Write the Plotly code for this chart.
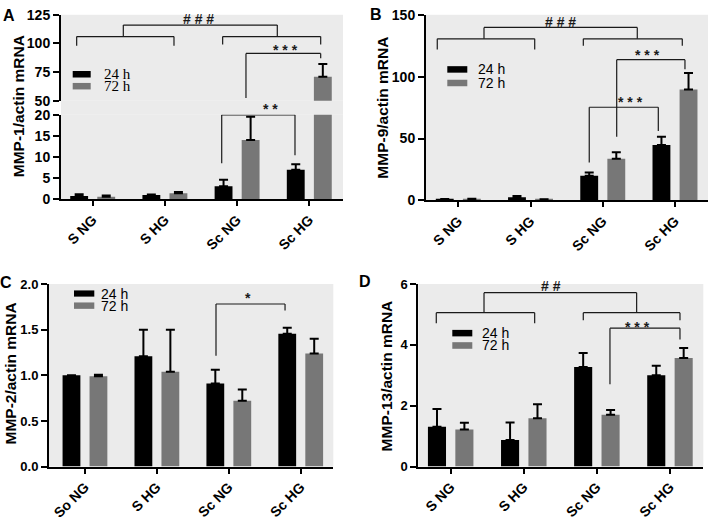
import plotly.graph_objects as go

# ---------------- data ----------------
cats_S = ["S NG", "S HG", "Sc NG", "Sc HG"]
cats_So = ["So NG", "S HG", "Sc NG", "Sc HG"]
series_names = ["24 h", "72 h"]

mmp1_24 = [0.75, 1.0, 3.1, 7.0]
mmp1_24_err = [0.45, 0.15, 1.5, 1.3]
mmp1_72 = [0.6, 1.45, 14.0, 71.0]
mmp1_72_err = [0.3, 0.25, 5.5, 11.0]

mmp9_24 = [0.8, 2.6, 20.0, 44.8]
mmp9_24_err = [0.4, 1.0, 2.5, 6.7]
mmp9_72 = [1.0, 0.7, 33.6, 89.6]
mmp9_72_err = [0.3, 0.3, 5.4, 13.4]

mmp2_24 = [1.0, 1.21, 0.91, 1.455]
mmp2_24_err = [0.0, 0.29, 0.15, 0.065]
mmp2_72 = [0.99, 1.04, 0.72, 1.24]
mmp2_72_err = [0.015, 0.46, 0.125, 0.16]

mmp13_24 = [1.31, 0.87, 3.27, 3.0]
mmp13_24_err = [0.58, 0.58, 0.46, 0.31]
mmp13_72 = [1.22, 1.59, 1.70, 3.57]
mmp13_72_err = [0.22, 0.46, 0.16, 0.33]

# significance brackets: (x0, x1, y_top, y_left_end, y_right_end)
brk_A_up = [(0.424, 2.557, 116, 106, 106), (-0.222, 1.126, 106, 98, 98),
            (1.80, 3.158, 106, 99, 99), (2.123, 3.158, 91.3, 52.5, 87)]
brk_A_low = [(1.787, 2.802, 19.95, 8.5, 10.4)]
brk_B = [(0.356, 2.478, 139.8, 130.6, 130.6), (-0.291, 1.058, 130.6, 122, 122),
         (1.731, 3.101, 130.6, 124.9, 124.9), (2.193, 3.138, 113.7, 51.5, 106),
         (1.813, 2.769, 75.3, 30.7, 56.2)]
brk_C = [(1.822, 2.782, 1.781, 1.214, 1.71)]
brk_D = [(0.456, 2.544, 5.714, 5.057, 5.057), (-0.197, 1.149, 5.057, 4.707, 4.707),
         (1.814, 3.137, 5.057, 4.812, 4.812), (2.179, 3.137, 4.548, 2.709, 4.175)]
# significance labels: (x, y, text, pixel shift)
sig_A_up = [(1.46, 121.4, "# # #", 0), (2.677, 94.5, "* * *", 0)]
sig_A_low = [(2.456, 19.9, "* *", 6)]
sig_B = [(1.418, 144.5, "# # #", 0), (2.617, 117.5, "* * *", 0), (2.386, 79.5, "* * *", 0)]
sig_C = [(2.271, 1.85, "*", 0)]
sig_D = [(1.368, 5.92, "# #", 0), (2.553, 4.6, "* * *", 0)]

# ---------------- style ----------------
W, H = 709, 525
BLACK = "#000000"
GREY = "#777777"
BG = "#ebebeb"
SANS = "Liberation Sans, Arial, sans-serif"
SERIF = "Liberation Serif, Times New Roman, serif"


def px(x):
    return x / W


def py(y):
    return 1 - y / H


fig = go.Figure()


def add_pair(xa, ya, cats, v24, e24, v72, e72):
    for name, vals, err, col in ((series_names[0], v24, e24, BLACK),
                                 (series_names[1], v72, e72, GREY)):
        fig.add_trace(go.Bar(
            x=cats, y=vals, name=name, xaxis=xa, yaxis=ya,
            marker=dict(color=col, line=dict(width=0)),
            error_y=dict(type="data", array=err, arrayminus=[0] * len(err),
                         symmetric=False, color=BLACK, thickness=2, width=4.5),
            showlegend=False))


add_pair("x", "y", cats_S, mmp1_24, mmp1_24_err, mmp1_72, mmp1_72_err)
add_pair("x", "y2", cats_S, mmp1_24, mmp1_24_err, mmp1_72, mmp1_72_err)
add_pair("x2", "y3", cats_S, mmp9_24, mmp9_24_err, mmp9_72, mmp9_72_err)
add_pair("x3", "y4", cats_So, mmp2_24, mmp2_24_err, mmp2_72, mmp2_72_err)
add_pair("x4", "y5", cats_S, mmp13_24, mmp13_24_err, mmp13_72, mmp13_72_err)

tickfont = dict(family=SANS, size=14, color=BLACK, weight="bold")
tickfont_s = dict(family=SANS, size=13, color=BLACK, weight="bold")
xtickfont = dict(family=SANS, size=14, color=BLACK, weight="bold")


def xax(dom, rng, anchor):
    return dict(domain=dom, range=rng, anchor=anchor, showline=True, linecolor=BLACK,
                linewidth=2, ticks="outside", ticklen=5, tickwidth=2, tickcolor=BLACK,
                tickangle=-45, tickfont=xtickfont, showgrid=False, zeroline=False,
                fixedrange=True)


def yax(dom, rng, anchor, tv, ttext=None, tf=tickfont):
    d = dict(domain=dom, range=rng, anchor=anchor, showline=True, linecolor=BLACK,
             linewidth=2, ticks="outside", ticklen=6, tickwidth=2, tickcolor=BLACK,
             tickvals=tv, tickfont=tf, showgrid=False, zeroline=False, fixedrange=True)
    if ttext is not None:
        d["ticktext"] = ttext
    return d


layout = dict(
    width=W, height=H, margin=dict(l=0, r=0, t=0, b=0),
    paper_bgcolor="white", plot_bgcolor=BG,
    barmode="group", bargap=0.25, bargroupgap=0.34,
    showlegend=False,
    xaxis=xax([px(61), px(343)], [-0.439, 3.467], "y"),
    yaxis=yax([py(197.3), py(110)], [0, 20], "x", [0, 5, 10, 15, 20]),
    yaxis2=yax([py(95.7), py(7)], [50, 125], "x", [50, 75, 100, 125]),
    xaxis2=xax([px(426), px(708)], [-0.447, 3.457], "y3"),
    yaxis3=yax([py(198.5), py(7)], [0, 150], "x2", [0, 50, 100, 150]),
    xaxis3=xax([px(49), px(333.3)], [-0.5, 3.453], "y4"),
    yaxis4=yax([py(473), py(284.7)], [0, 2], "x3", [0, 0.5, 1.0, 1.5, 2.0],
               ["0.0", "0.5", "1.0", "1.5", "2.0"], tickfont_s),
    xaxis4=xax([px(418.3), px(703.3)], [-0.443, 3.456], "y5"),
    yaxis5=yax([py(473), py(284.7)], [0, 6], "x4", [0, 2, 4, 6], None, tickfont_s),
)
fig.update_layout(**layout)

shapes = []
annots = []
# grey fill for the axis break gap in panel A
shapes.append(dict(type="rect", xref="paper", yref="paper", x0=px(61), x1=px(343),
                   y0=py(110), y1=py(95.7), fillcolor=BG, line=dict(width=0), layer="below"))

LN = dict(color="#1a1a1a", width=1.2)


def add_brackets(lst, xa, ya):
    for x0, x1, yt, yl, yr in lst:
        shapes.append(dict(type="line", xref=xa, yref=ya, x0=x0, x1=x0, y0=yl, y1=yt, line=LN))
        shapes.append(dict(type="line", xref=xa, yref=ya, x0=x0, x1=x1, y0=yt, y1=yt, line=LN))
        shapes.append(dict(type="line", xref=xa, yref=ya, x0=x1, x1=x1, y0=yt, y1=yr, line=LN))


def add_sig(lst, xa, ya):
    for x, y, t, sh in lst:
        annots.append(dict(x=x, y=y, xref=xa, yref=ya, text=t, showarrow=False,
                           xanchor="center", yanchor="middle", yshift=sh,
                           font=dict(family=SANS, size=14, color="#1a1a1a", weight="bold")))


add_brackets(brk_A_up, "x", "y2")
add_brackets(brk_A_low, "x", "y")
add_brackets(brk_B, "x2", "y3")
add_brackets(brk_C, "x3", "y4")
add_brackets(brk_D, "x4", "y5")
add_sig(sig_A_up, "x", "y2")
add_sig(sig_A_low, "x", "y")
add_sig(sig_B, "x2", "y3")
add_sig(sig_C, "x3", "y4")
add_sig(sig_D, "x4", "y5")

# legends (swatch rectangles + text), positions in pixels
legends = [
    (72.7, 90.7, (65, 71.7), (77.3, 84), 103, SERIF, 15),
    (447.3, 467.3, (60, 66.7), (74, 80.7), 476.7, SANS, 14),
    (74, 94.3, (291.3, 297.7), (303.7, 310.3), 100, SANS, 14),
    (452.3, 472.3, (332, 338.7), (344.7, 351.5), 480.7, SANS, 14),
]
for x0, x1, r24, r72, tx, fam, sz in legends:
    for (yt, yb), col, name in ((r24, BLACK, series_names[0]), (r72, GREY, series_names[1])):
        shapes.append(dict(type="rect", xref="paper", yref="paper", x0=px(x0), x1=px(x1),
                           y0=py(yb), y1=py(yt), fillcolor=col, line=dict(width=0)))
        annots.append(dict(x=px(tx), y=py((yt + yb) / 2), xref="paper", yref="paper",
                           text=name, showarrow=False, xanchor="left", yanchor="middle",
                           borderpad=0,
                           font=dict(family=fam, size=sz, color=BLACK)))

# y axis titles
ytitles = [("MMP-1/actin mRNA", 19.3, 101), ("MMP-9/actin mRNA", 382.3, 102.5),
           ("MMP-2/actin mRNA", 11, 377), ("MMP-13/actin mRNA", 386, 380)]
for t, x, y in ytitles:
    annots.append(dict(x=px(x), y=py(y), xref="paper", yref="paper", text=t,
                       textangle=-90, showarrow=False, xanchor="center", yanchor="middle",
                       font=dict(family=SANS, size=15.5, color=BLACK, weight="bold")))

# panel letters
for t, x, y in (("A", 8.5, 7.5), ("B", 376.5, 6.5), ("C", 6, 283), ("D", 365, 282.5)):
    annots.append(dict(x=px(x), y=py(y), xref="paper", yref="paper", text=t,
                       showarrow=False, xanchor="center", yanchor="middle",
                       font=dict(family=SANS, size=16, color=BLACK, weight="bold")))

fig.update_layout(shapes=shapes, annotations=annots)
fig.write_html("out.html", config={"displayModeBar": False},
               post_script="document.body.style.margin='0';document.body.style.overflow='hidden';")
